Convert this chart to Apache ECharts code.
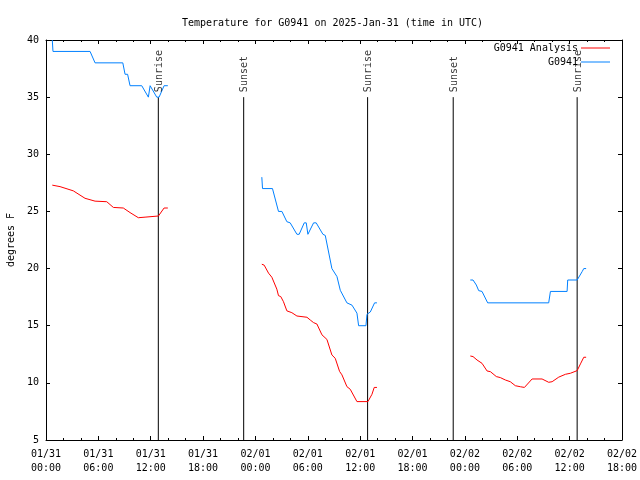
<!DOCTYPE html>
<html>
<head>
<meta charset="utf-8">
<script src="https://cdn.jsdelivr.net/npm/echarts@6/dist/echarts.min.js"></script>
<style>html,body{margin:0;padding:0;background:#fff}#c{width:640px;height:480px}</style>
</head>
<body>
<div id="c"></div>
<script>
// Hours since 2025-01-31 00:00 UTC
const dayLabels = ['01/31', '02/01', '02/02', '02/03'];
const sunEvents = ['Sunrise', 'Sunset', 'Sunrise', 'Sunset', 'Sunrise'];
const sunHours = [12.87, 22.65, 36.85, 46.66, 60.86];

const anaHours = [0.72,1.61,3.13,4.47,5.62,6.96,7.72,8.86,9.63,10.58,11.35,12.88,13.53,13.96, 19,
  24.73,25.0,25.5,25.88,26.07,26.45,26.64,26.9,27.21,27.6,28.17,28.75,29.9,30.28,30.66,31.04,31.62,32.19,32.76,33.14,33.64,33.91,34.48,34.86,35.63,36.89,37.35,37.61,37.92, 43,
  48.62,48.93,49.39,49.96,50.54,50.92,51.6,52.06,52.64,53.2,53.78,54.36,54.82,55.7,56.84,57.6,57.99,58.75,59.52,60.09,60.86,61.24,61.62,61.89];
const anaTemps = [27.3,27.17,26.8,26.15,25.9,25.85,25.35,25.3,24.9,24.45,24.5,24.6,25.3,25.3, null,
  20.38,20.3,19.6,19.24,19.15,18.2,17.63,17.55,17.1,16.3,16.14,15.85,15.74,15.5,15.27,15.15,14.2,13.8,12.44,12.15,11.0,10.7,9.67,9.44,8.36,8.36,9.0,9.6,9.6, null,
  12.35,12.3,12.0,11.71,11.04,10.98,10.55,10.46,10.25,10.1,9.75,9.66,9.6,10.34,10.34,10.05,10.1,10.5,10.75,10.84,11.07,11.66,12.24,12.24];

const obsHours = [0.72,0.80,5.05,5.62,8.80,9.06,9.35,9.63,10.97,11.73,11.93,12.69,12.96,13.53,13.96, 19,
  24.73,24.81,25.95,26.64,27.03,27.6,27.98,28.75,29.01,29.59,29.82,30.01,30.66,30.96,31.73,32.0,32.76,33.34,33.72,34.48,35.06,35.63,35.82,36.66,36.78,37.16,37.65,37.92, 43,
  48.62,48.93,49.31,49.58,49.96,50.61,57.6,57.8,59.71,59.78,60.86,61.43,61.62,61.89];
const obsTemps = [40,39,39,38,38,37,37,36,36,35,36,35,35,36,36, null,
  28,27,27,25,25,24.1,24,23,23,24,24,23,24,24,23,22.9,20,19.3,18.1,17,16.8,16.1,15,15,16,16.2,17,17, null,
  19,19,18.56,18.07,18,17,17,18,18,19,19,19.73,20,20];

const FONT = 'DejaVu Sans Mono';
const pairs = (xs, ys) => xs.map((x, i) => [x, ys[i] === null ? '-' : ys[i]]);

const sunLineData = [];
sunHours.forEach(h => { sunLineData.push([h, 35], [h, 5], [h, '-']); });

const tickFmt = v => {
  const d = Math.floor(v / 24);
  const hh = String(v % 24).padStart(2, '0');
  return dayLabels[d] + '\n' + hh + ':00';
};

const axisCommon = {
  axisLine: { show: true, onZero: false, lineStyle: { color: '#000', width: 1 } },
  axisTick: { show: true, inside: true, length: 4, lineStyle: { color: '#000' } },
  splitLine: { show: false }
};

const chart = echarts.init(document.getElementById('c'), null, { renderer: 'canvas' });
chart.setOption({
  animation: false,
  backgroundColor: '#fff',
  textStyle: { fontFamily: FONT },
  title: {
    text: 'Temperature for G0941 on 2025-Jan-31 (time in UTC)',
    left: 177, top: 13,
    textStyle: { fontFamily: FONT, fontSize: 10, fontWeight: 'normal', color: '#000' }
  },
  legend: [
    { data: ['G0941 Analysis'], right: 30, top: 43, align: 'right', orient: 'vertical', padding: 0,
      itemWidth: 29, itemHeight: 1, icon: 'rect', itemGap: 0,
      textStyle: { fontFamily: FONT, fontSize: 10, color: '#000', padding: [0, -2, 0, 0] } },
    { data: ['G0941'], right: 30, top: 57, align: 'right', orient: 'vertical', padding: 0,
      itemWidth: 29, itemHeight: 1, icon: 'rect', itemGap: 0,
      textStyle: { fontFamily: FONT, fontSize: 10, color: '#000', padding: [0, -2, 0, 0] } }
  ],
  grid: { left: 46, right: 18, top: 40, bottom: 40, containLabel: false, outerBoundsMode: 'none' },
  xAxis: [
    Object.assign({}, axisCommon, {
      type: 'value', min: 0, max: 66, interval: 6, position: 'bottom',
      minorTick: { show: true, splitNumber: 3, length: 2, lineStyle: { color: '#000' } },
      axisLabel: { formatter: tickFmt, fontFamily: FONT, fontSize: 10, color: '#000', margin: 7, lineHeight: 14 }
    }),
    Object.assign({}, axisCommon, {
      type: 'value', min: 0, max: 66, interval: 6, position: 'top',
      minorTick: { show: true, splitNumber: 3, length: 2, lineStyle: { color: '#000' } },
      axisLabel: { show: false }
    })
  ],
  yAxis: [
    Object.assign({}, axisCommon, {
      type: 'value', min: 5, max: 40, interval: 5, position: 'left',
      name: 'degrees F', nameLocation: 'middle', nameGap: 30,
      nameTextStyle: { fontFamily: FONT, fontSize: 10, color: '#000' },
      axisLabel: { fontFamily: FONT, fontSize: 10, color: '#000', margin: 7 }
    }),
    Object.assign({}, axisCommon, {
      type: 'value', min: 5, max: 40, interval: 5, position: 'right',
      axisLabel: { show: false }
    })
  ],
  series: [
    { name: 'G0941 Analysis', type: 'line', data: pairs(anaHours, anaTemps), symbol: 'none',
      connectNulls: false, color: '#ff0000', lineStyle: { color: '#ff0000', width: 1 }, z: 3 },
    { name: 'G0941', type: 'line', data: pairs(obsHours, obsTemps), symbol: 'none',
      connectNulls: false, color: '#0080ff', lineStyle: { color: '#0080ff', width: 1 }, z: 3 },
    { name: 'sun', type: 'line', data: sunLineData, symbol: 'none', connectNulls: false,
      lineStyle: { color: '#000', width: 1 }, z: 2 },
    { name: 'sunLabels', type: 'scatter', symbolSize: 1, itemStyle: { color: 'rgba(0,0,0,0)' },
      data: sunHours.map((h, i) => ({ value: [h, 35], name: sunEvents[i] })),
      label: { show: true, formatter: '{b}', position: 'inside', rotate: 90, align: 'left',
        verticalAlign: 'middle', offset: [5, 1], fontFamily: FONT, fontSize: 10, color: '#000' }, z: 4 }
  ]
});
</script>
</body>
</html>
